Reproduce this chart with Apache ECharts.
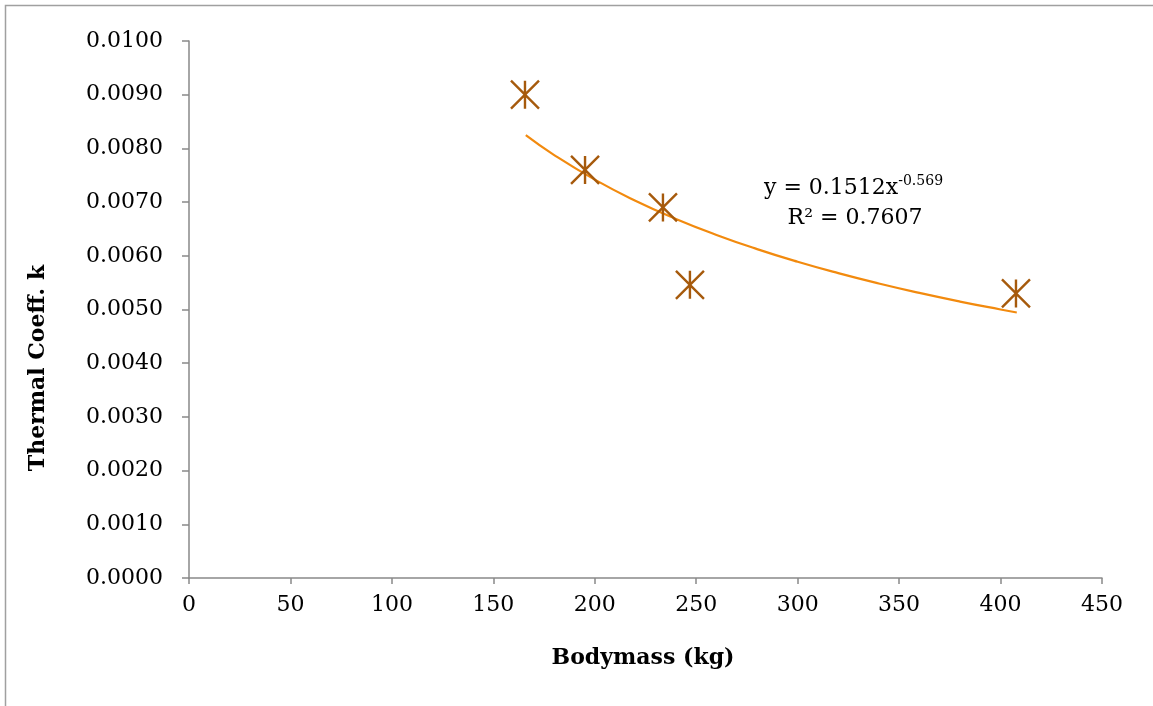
<!DOCTYPE html>
<html>
<head>
<meta charset="utf-8">
<script src="https://cdn.jsdelivr.net/npm/echarts@6/dist/echarts.min.js"></script>
<style>html,body{margin:0;padding:0;background:#fff;}#c{width:1153px;height:706px;}</style>
</head>
<body>
<div id="c"></div>
<script>
// Observed data points (Bodymass kg, Thermal coeff k)
const bodymass = [165.6, 195.2, 233.6, 246.9, 407.6];
const thermalK = [0.0090, 0.0076, 0.0069, 0.00546, 0.0053];
// Power trendline y = 0.1512x^-0.569
const trendX = [166, 180, 200, 220, 240, 260, 280, 300, 320, 340, 360, 380, 400, 408];
const trendY = [0.008247, 0.007876, 0.007418, 0.007026, 0.006687, 0.006389, 0.006125, 0.005889, 0.005677, 0.005484, 0.005309, 0.005148, 0.005000, 0.004944];
const xTitle = 'Bodymass (kg)';
const yTitle = 'Thermal Coeff. k';

const FONT = 'DejaVu Serif';
const chart = echarts.init(document.getElementById('c'), null, {renderer: 'canvas'});
const axisGray = '#898989';

chart.setOption({
  animation: false,
  backgroundColor: '#fff',
  grid: {left: 189, right: 51, top: 41, bottom: 128, containLabel: false},
  xAxis: {
    type: 'value', min: 0, max: 450, interval: 50,
    axisLine: {show: true, lineStyle: {color: axisGray, width: 1.5}},
    axisTick: {show: true, length: 6, lineStyle: {color: axisGray, width: 1.5}},
    splitLine: {show: false},
    axisLabel: {color: '#000', fontFamily: FONT, fontSize: 22, margin: 16}
  },
  yAxis: {
    type: 'value', min: 0, max: 0.01, interval: 0.001,
    axisLine: {show: true, lineStyle: {color: axisGray, width: 1.5}},
    axisTick: {show: true, length: 7, lineStyle: {color: axisGray, width: 1.5}},
    splitLine: {show: false},
    axisLabel: {color: '#000', fontFamily: FONT, fontSize: 22, margin: 26,
      formatter: v => v.toFixed(4)}
  },
  series: [
    {
      type: 'line', data: trendX.map((x, i) => [x, trendY[i]]),
      showSymbol: false, smooth: true,
      lineStyle: {color: '#F28A0E', width: 2.2}, z: 2
    },
    {
      type: 'scatter', data: bodymass.map((x, i) => [x, thermalK[i]]),
      symbol: 'path://M0,0L20,20M20,0L0,20M10,0L10,20',
      symbolSize: 28,
      itemStyle: {color: 'none', borderColor: '#A65A0C', borderWidth: 2.4, opacity: 1},
      z: 3
    }
  ],
  graphic: [
    {type: 'rect', shape: {x: 5.5, y: 5.5, width: 1200, height: 800},
     style: {fill: 'none', stroke: '#a0a0a0', lineWidth: 1.5}, z: -1, silent: true},
    {type: 'text', x: 38, y: 368, rotation: Math.PI / 2,
     style: {text: yTitle, font: 'bold 22px "' + FONT + '"', fill: '#000',
       align: 'center', verticalAlign: 'middle'}},
    {type: 'text', x: 643, y: 658,
     style: {text: xTitle, font: 'bold 22px "' + FONT + '"', fill: '#000',
       align: 'center', verticalAlign: 'middle'}},
    {type: 'text', x: 764, y: 188,
     style: {text: '{n|y = 0.1512x}{s|-0.569}', align: 'left', verticalAlign: 'middle',
       rich: {
         n: {fontFamily: FONT, fontSize: 22, color: '#000'},
         s: {fontFamily: FONT, fontSize: 14, color: '#000', padding: [0, 0, 14, 0]}
       }}},
    {type: 'text', x: 855, y: 218,
     style: {text: 'R² = 0.7607', font: '22px "' + FONT + '"', fill: '#000',
       align: 'center', verticalAlign: 'middle'}}
  ]
});
</script>
</body>
</html>
